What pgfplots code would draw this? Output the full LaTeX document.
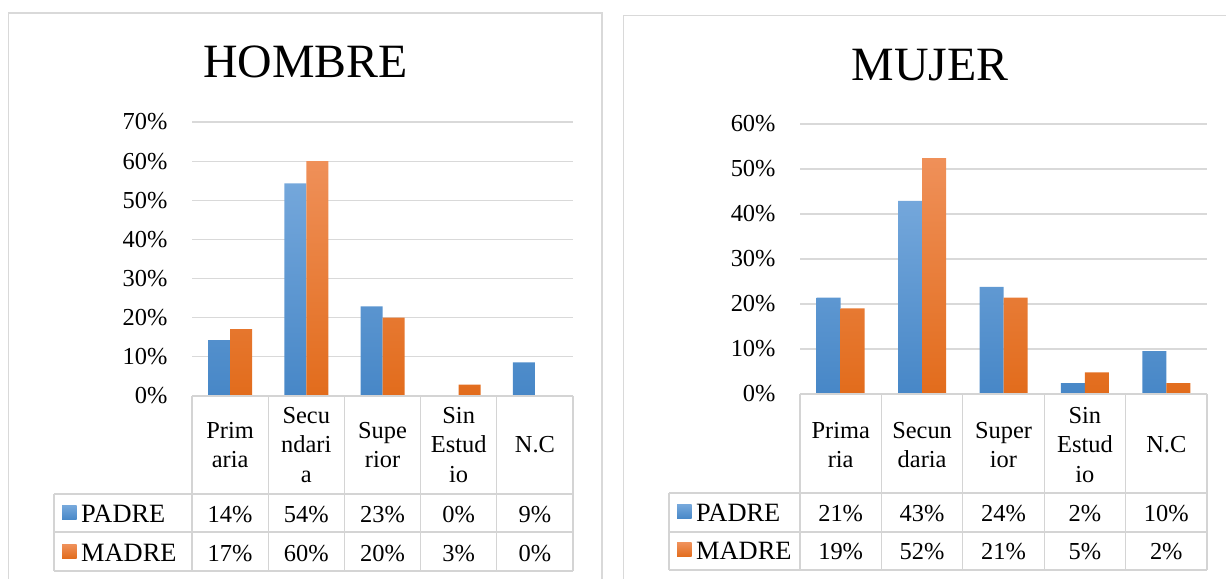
\documentclass[border=0pt]{standalone}
\usepackage{fontspec}
\setmainfont{Liberation Serif}
\usepackage{pgfplots}
\pgfplotsset{compat=1.18}
\definecolor{bluetop}{HTML}{74A7DB}
\definecolor{bluemid}{HTML}{5C9BD6}
\definecolor{bluebot}{HTML}{4787C7}
\definecolor{orgtop}{HTML}{EF9059}
\definecolor{orgmid}{HTML}{F4802F}
\definecolor{orgbot}{HTML}{E26C1C}
\definecolor{gridc}{HTML}{D9D9D9}
\definecolor{tabc}{HTML}{D4D4D4}
\newcommand\tk{\fontsize{24.5}{30}\selectfont}
\newcommand\legfont{\fontsize{26.5}{30}\selectfont}
\newcommand\ttl{\fontsize{48}{52}\selectfont}

\pgfplotsset{
  panel/.style={
    scale only axis,
    anchor=south west,
    xmin=0, xmax=5,
    ymin=0,
    xtick=\empty,
    axis line style={draw=none},
    major tick length=0pt,
    ymajorgrids,
    grid style={gridc, line width=1.2bp},
    yticklabel style={font=\tk, xshift=-21bp},
    ybar=0pt,
    clip=false,
  },
  padre/.style={draw=none, top color=bluetop, middle color=bluemid, bottom color=bluebot},
  madre/.style={draw=none, top color=orgtop, middle color=orgmid, bottom color=orgbot},
}

% HOMBRE (n = 35)
\pgfplotstableread{
x padre madre
0.5 14.3 17.1
1.5 54.3 60.0
2.5 22.9 20.0
3.5 0.0 2.9
4.5 8.6 0.0
}\hombre
% MUJER (n = 42)
\pgfplotstableread{
x padre madre
0.5 21.4 19.0
1.5 42.9 52.4
2.5 23.8 21.4
3.5 2.4 4.8
4.5 9.5 2.4
}\mujer

\begin{document}
\begin{tikzpicture}[x=1bp, y=1bp]
\useasboundingbox (0,0) rectangle (1226,579);

% frames
\draw[gridc, line width=1.5bp] (8.5,-2) -- (8.5,566) -- (602,566) -- (602,-2);
\draw[gridc, line width=1.5bp] (623.5,-2) -- (623.5,563.5) -- (1230,563.5);

% titles
\node[font=\ttl, anchor=base] at (305.5,501) {HOMBRE};
\node[font=\ttl, anchor=base] at (930,498) {MUJER};

% ---------------- HOMBRE ----------------
\begin{axis}[panel, at={(192bp,183bp)}, width=381bp, height=274bp,
  ymax=70, ytick={0,10,...,70},
  yticklabels={0\%,10\%,20\%,30\%,40\%,50\%,60\%,70\%},
  bar width=22bp]
  \addplot[padre] table[x=x, y=padre] {\hombre};
  \addplot[madre] table[x=x, y=madre] {\hombre};
\end{axis}

% table HOMBRE
\begin{scope}[tabc, line width=1.3bp]
  \foreach \k in {0,...,5} {
    \draw (192+76.2*\k,183) -- (192+76.2*\k,8);
  }
  \draw (54,85) -- (54,8);
  \draw (192,183) -- (573,183);
  \foreach \yy in {85,47,8} { \draw (54,\yy) -- (573,\yy); }
\end{scope}
\foreach \lab [count=\i from 0] in {Prim\\aria, Secu\\ndari\\a, Supe\\rior, Sin\\Estud\\io, N.C} {
  \node[font=\tk, align=center, inner sep=0pt] at (230.1+76.2*\i,134) {\lab};
}
\foreach \v [count=\i from 0] in {14\%,54\%,23\%,0\%,9\%} {
  \node[font=\tk, anchor=base] at (230.1+76.2*\i,56) {\v};
}
\foreach \v [count=\i from 0] in {17\%,60\%,20\%,3\%,0\%} {
  \node[font=\tk, anchor=base] at (230.1+76.2*\i,17.5) {\v};
}
\shade[top color=bluetop, bottom color=bluebot] (62,59) rectangle (76.5,73);
\shade[top color=orgtop, bottom color=orgbot] (62,20.5) rectangle (76.5,34.5);
\node[font=\legfont, anchor=base west, inner sep=0pt] at (81,56) {PADRE};
\node[font=\legfont, anchor=base west, inner sep=0pt] at (81,17.5) {MADRE};

% ---------------- MUJER ----------------
\begin{axis}[panel, at={(800bp,185bp)}, width=407bp, height=270bp,
  ymax=60, ytick={0,10,...,60},
  yticklabels={0\%,10\%,20\%,30\%,40\%,50\%,60\%},
  bar width=24bp]
  \addplot[padre] table[x=x, y=padre] {\mujer};
  \addplot[madre] table[x=x, y=madre] {\mujer};
\end{axis}

% table MUJER
\begin{scope}[tabc, line width=1.3bp]
  \foreach \k in {0,...,5} {
    \draw (800+81.4*\k,185) -- (800+81.4*\k,9);
  }
  \draw (669,86) -- (669,9);
  \draw (800,185) -- (1207,185);
  \foreach \yy in {86,47,9} { \draw (669,\yy) -- (1207,\yy); }
\end{scope}
\foreach \lab [count=\i from 0] in {Prima\\ria, Secun\\daria, Super\\ior, Sin\\Estud\\io, N.C} {
  \node[font=\tk, align=center, inner sep=0pt] at (840.7+81.4*\i,134) {\lab};
}
\foreach \v [count=\i from 0] in {21\%,43\%,24\%,2\%,10\%} {
  \node[font=\tk, anchor=base] at (840.7+81.4*\i,57.5) {\v};
}
\foreach \v [count=\i from 0] in {19\%,52\%,21\%,5\%,2\%} {
  \node[font=\tk, anchor=base] at (840.7+81.4*\i,19) {\v};
}
\shade[top color=bluetop, bottom color=bluebot] (677,60) rectangle (691.5,74);
\shade[top color=orgtop, bottom color=orgbot] (677,22) rectangle (691.5,36);
\node[font=\legfont, anchor=base west, inner sep=0pt] at (696,57.5) {PADRE};
\node[font=\legfont, anchor=base west, inner sep=0pt] at (696,19) {MADRE};
\end{tikzpicture}
\end{document}
